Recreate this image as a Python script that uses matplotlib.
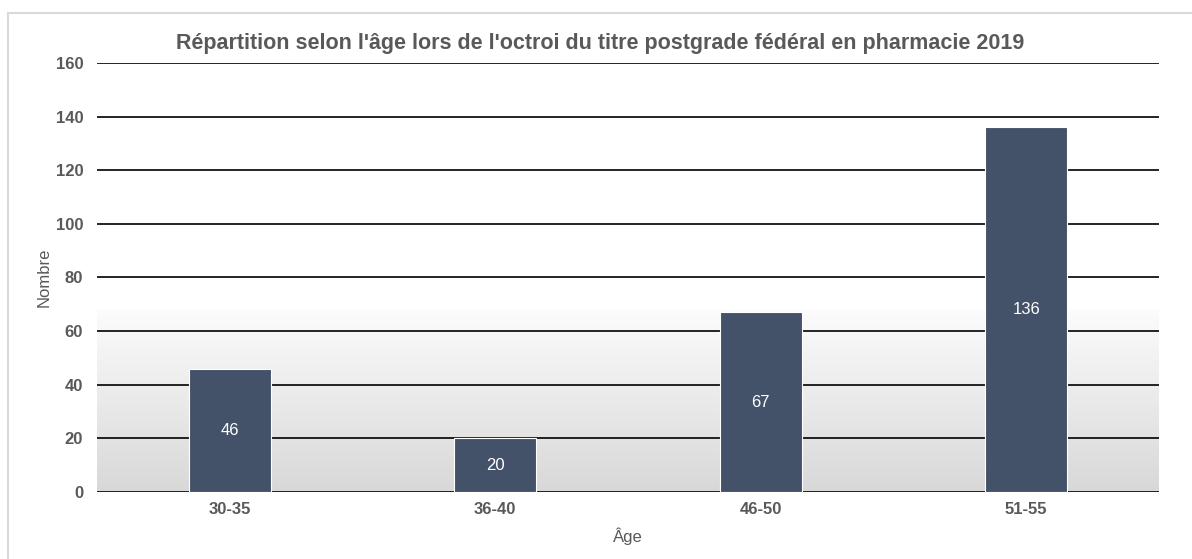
import numpy as np
import matplotlib.pyplot as plt
from matplotlib.patches import Rectangle

# Data
categories = ['30-35', '36-40', '46-50', '51-55']
counts = [46, 20, 67, 136]
title = "Répartition selon l'âge lors de l'octroi du titre postgrade fédéral en pharmacie 2019"

plt.rcParams['font.family'] = ['Liberation Sans', 'DejaVu Sans']
txt_color = '#595959'
bar_color = '#435269'

fig = plt.figure(figsize=(11.92, 5.59), dpi=100)
ax = fig.add_axes([0.0814, 0.1199, 0.8909, 0.7674])

x = np.arange(len(categories))
ax.set_xlim(-0.5, len(categories) - 0.5)
ax.set_ylim(0, 160)

# gradient band in the lower part of the plot area
grad = np.linspace(0, 1, 256).reshape(-1, 1)
ax.imshow(grad, extent=[-0.5, len(categories) - 0.5, 0, 68], aspect='auto',
          cmap=plt.matplotlib.colors.LinearSegmentedColormap.from_list('g', ['#d8d8d8', '#fcfcfc']),
          origin='lower', zorder=0)

ax.set_yticks(np.arange(0, 161, 20))
ax.yaxis.grid(True, color='black', linewidth=1.2, zorder=1)
ax.set_axisbelow(True)

bars = ax.bar(x, counts, width=0.31, color=bar_color, edgecolor='white', linewidth=0.8, zorder=3)
for xi, v in zip(x, counts):
    ax.text(xi, v / 2, str(v), ha='center', va='center', color='white', fontsize=12, zorder=4)

for s in ax.spines.values():
    s.set_visible(False)
ax.tick_params(axis='both', length=0, colors=txt_color, labelsize=12)
ax.tick_params(axis='y', pad=10)
ax.tick_params(axis='x', pad=7)
ax.set_xticks(x)
ax.set_xticklabels(categories, fontweight='bold')
for lab in ax.get_yticklabels():
    lab.set_fontweight('bold')

ax.set_xlabel('Âge', color=txt_color, fontsize=12, labelpad=8)
ax.set_ylabel('Nombre', color=txt_color, fontsize=12, labelpad=3)

fig.text(0.5035, 0.923, title, ha='center', va='center', color=txt_color,
         fontsize=15.5, fontweight='bold')

# light frame around the chart
fig.patches.append(Rectangle((8 / 1192, -0.1), 1.2, 1 - 13.5 / 559 + 0.1, transform=fig.transFigure,
                             fill=False, edgecolor='#d9d9d9', linewidth=1.5))

fig.savefig('out.png', dpi=100)
